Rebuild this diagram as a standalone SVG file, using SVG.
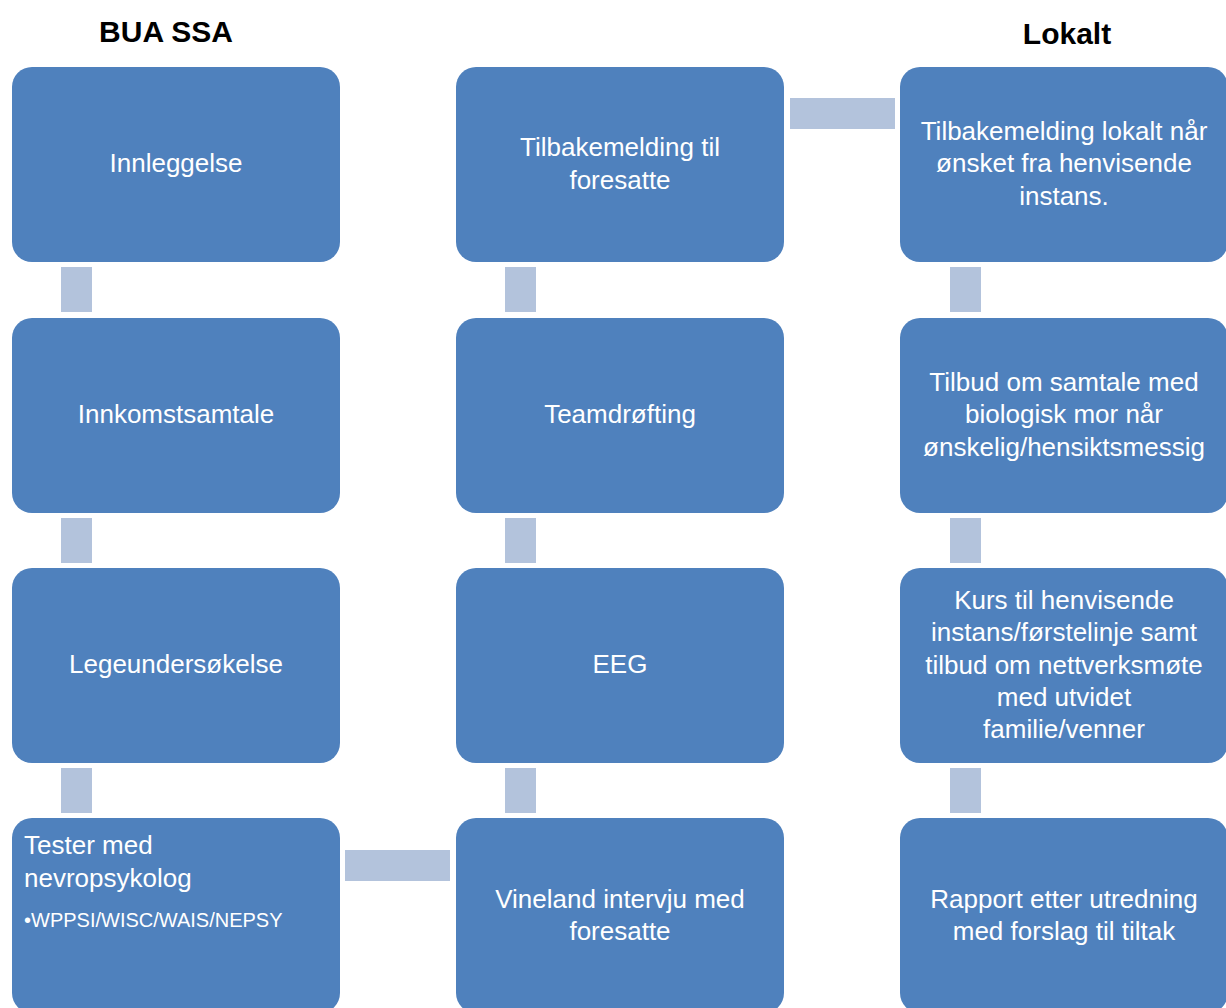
<svg xmlns="http://www.w3.org/2000/svg" width="1226" height="1008" viewBox="0 0 1226 1008">
<style>
.box{fill:#4F81BD;}
.con{fill:#B3C3DC;}
.t{font-family:"Liberation Sans",Arial,sans-serif;font-size:26px;fill:#FFFFFF;text-anchor:middle;}
.tl{font-family:"Liberation Sans",Arial,sans-serif;font-size:26px;fill:#FFFFFF;}
.b{font-family:"Liberation Sans",Arial,sans-serif;font-size:20px;fill:#FFFFFF;}
.h{font-family:"Liberation Sans",Arial,sans-serif;font-size:30px;font-weight:bold;fill:#000000;text-anchor:middle;}
</style>
<rect width="1226" height="1008" fill="#FFFFFF"/>
<text class="h" x="166" y="42">BUA SSA</text>
<text class="h" x="1067" y="44">Lokalt</text>
<g id="connectors">
<rect class="con" x="61" y="267" width="31" height="45"/>
<rect class="con" x="61" y="518" width="31" height="45"/>
<rect class="con" x="61" y="768" width="31" height="45"/>
<rect class="con" x="345" y="850" width="105" height="31"/>
<rect class="con" x="505" y="768" width="31" height="45"/>
<rect class="con" x="505" y="518" width="31" height="45"/>
<rect class="con" x="505" y="267" width="31" height="45"/>
<rect class="con" x="790" y="98" width="105" height="31"/>
<rect class="con" x="950" y="267" width="31" height="45"/>
<rect class="con" x="950" y="518" width="31" height="45"/>
<rect class="con" x="950" y="768" width="31" height="45"/>
</g>
<g id="n1"><rect class="box" x="12" y="67" width="328" height="195" rx="20"/>
<text class="t" x="176" y="172">Innleggelse</text></g>
<g id="n2"><rect class="box" x="12" y="318" width="328" height="195" rx="20"/>
<text class="t" x="176" y="423">Innkomstsamtale</text></g>
<g id="n3"><rect class="box" x="12" y="568" width="328" height="195" rx="20"/>
<text class="t" x="176" y="673">Legeundersøkelse</text></g>
<g id="n4"><rect class="box" x="12" y="818" width="328" height="195" rx="20"/>
<text class="tl" x="24" y="854">Tester med</text>
<text class="tl" x="24" y="887">nevropsykolog</text>
<text class="b" x="24" y="927">•WPPSI/WISC/WAIS/NEPSY</text></g>
<g id="n5"><rect class="box" x="456" y="818" width="328" height="195" rx="20"/>
<text class="t" x="620" y="908">Vineland intervju med</text>
<text class="t" x="620" y="940">foresatte</text></g>
<g id="n6"><rect class="box" x="456" y="568" width="328" height="195" rx="20"/>
<text class="t" x="620" y="673">EEG</text></g>
<g id="n7"><rect class="box" x="456" y="318" width="328" height="195" rx="20"/>
<text class="t" x="620" y="423">Teamdrøfting</text></g>
<g id="n8"><rect class="box" x="456" y="67" width="328" height="195" rx="20"/>
<text class="t" x="620" y="156">Tilbakemelding til</text>
<text class="t" x="620" y="189">foresatte</text></g>
<g id="n9"><rect class="box" x="900" y="67" width="328" height="195" rx="20"/>
<text class="t" x="1064" y="140">Tilbakemelding lokalt når</text>
<text class="t" x="1064" y="172">ønsket fra henvisende</text>
<text class="t" x="1064" y="205">instans.</text></g>
<g id="n10"><rect class="box" x="900" y="318" width="328" height="195" rx="20"/>
<text class="t" x="1064" y="391">Tilbud om samtale med</text>
<text class="t" x="1064" y="423">biologisk mor når</text>
<text class="t" x="1064" y="456">ønskelig/hensiktsmessig</text></g>
<g id="n11"><rect class="box" x="900" y="568" width="328" height="195" rx="20"/>
<text class="t" x="1064" y="609">Kurs til henvisende</text>
<text class="t" x="1064" y="641">instans/førstelinje samt</text>
<text class="t" x="1064" y="674">tilbud om nettverksmøte</text>
<text class="t" x="1064" y="706">med utvidet</text>
<text class="t" x="1064" y="738">familie/venner</text></g>
<g id="n12"><rect class="box" x="900" y="818" width="328" height="195" rx="20"/>
<text class="t" x="1064" y="908">Rapport etter utredning</text>
<text class="t" x="1064" y="940">med forslag til tiltak</text></g>
</svg>
